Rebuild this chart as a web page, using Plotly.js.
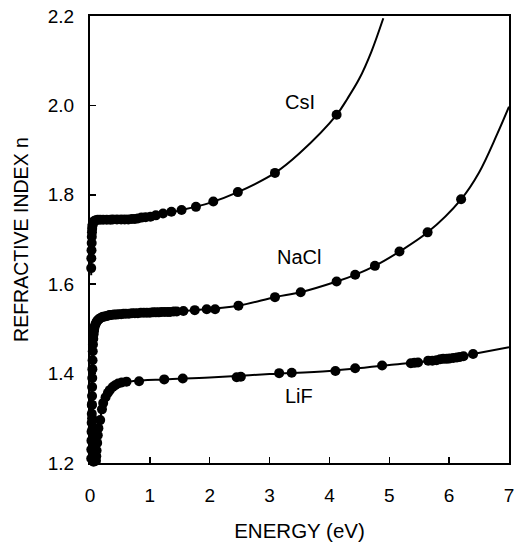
<!DOCTYPE html>
<html>
<head>
<meta charset="utf-8">
<script src="https://cdn.plot.ly/plotly-3.0.1.min.js"></script>
<style>html,body{margin:0;padding:0;background:#fff;overflow:hidden;}#chart{width:514px;height:546px;}</style>
</head>
<body>
<div id="chart"></div>
<script>
// ---- measured data (CsI) ----
const csiX = [0.02,0.022,0.025,0.028,0.03,0.033,0.036,0.04,0.045,0.05,0.06,0.08,0.1,0.13,0.17,0.22,0.28,0.34,0.38,0.45,0.52,0.58,0.64,0.70,0.75,0.80,0.86,0.93,1.01,1.10,1.22,1.36,1.53,1.77,2.06,2.47,3.09,4.12];
const csiY = [1.636,1.658,1.676,1.692,1.706,1.716,1.724,1.730,1.734,1.737,1.740,1.742,1.743,1.744,1.744,1.744,1.744,1.744,1.745,1.745,1.745,1.745,1.745,1.746,1.746,1.747,1.749,1.750,1.751,1.754,1.758,1.762,1.766,1.773,1.785,1.806,1.849,1.979];
// ---- measured data (NaCl) ----
const naclX = [0.02,0.022,0.024,0.026,0.028,0.03,0.032,0.034,0.036,0.038,0.04,0.043,0.046,0.05,0.055,0.06,0.065,0.07,0.08,0.09,0.1,0.115,0.13,0.15,0.17,0.2,0.22,0.25,0.28,0.31,0.33,0.36,0.4,0.44,0.48,0.52,0.56,0.6,0.65,0.7,0.75,0.8,0.85,0.9,0.95,1.0,1.05,1.1,1.15,1.2,1.25,1.3,1.34,1.4,1.45,1.56,1.75,1.95,2.09,2.48,3.09,3.52,4.12,4.43,4.76,5.17,5.64,6.20];
const naclY = [1.21,1.23,1.25,1.27,1.29,1.31,1.33,1.35,1.37,1.39,1.41,1.43,1.45,1.465,1.478,1.488,1.495,1.500,1.506,1.510,1.513,1.517,1.519,1.522,1.524,1.526,1.527,1.528,1.529,1.530,1.531,1.531,1.532,1.532,1.533,1.533,1.534,1.534,1.534,1.535,1.535,1.535,1.536,1.536,1.536,1.536,1.537,1.537,1.537,1.538,1.538,1.538,1.538,1.539,1.539,1.540,1.542,1.544,1.544,1.552,1.571,1.582,1.606,1.621,1.641,1.673,1.716,1.790];
// ---- measured data (LiF) ----
const lifX = [0.03,0.035,0.04,0.045,0.05,0.055,0.06,0.1,0.105,0.11,0.12,0.13,0.14,0.17,0.2,0.22,0.26,0.3,0.33,0.38,0.42,0.47,0.53,0.61,0.82,1.24,1.55,2.45,2.52,3.16,3.37,4.10,4.43,4.88,5.36,5.42,5.48,5.65,5.72,5.79,5.85,5.90,5.96,6.01,6.07,6.13,6.18,6.24,6.40];
const lifY = [1.33,1.30,1.275,1.25,1.23,1.215,1.203,1.205,1.215,1.228,1.245,1.262,1.278,1.296,1.320,1.334,1.347,1.357,1.363,1.370,1.374,1.378,1.380,1.382,1.383,1.387,1.389,1.392,1.393,1.401,1.402,1.406,1.412,1.418,1.423,1.424,1.425,1.429,1.429,1.430,1.432,1.433,1.433,1.434,1.435,1.436,1.437,1.439,1.444];
// ---- fitted curves ----
const csiFitX = [0.02,0.03,0.05,0.1,0.3,0.7,1.0,1.5,2.0,2.47,3.09,3.5,4.12,4.3,4.5,4.7,4.9];
const csiFitY = [1.62,1.69,1.725,1.740,1.744,1.746,1.751,1.765,1.782,1.806,1.849,1.893,1.979,2.015,2.06,2.12,2.195];
const naclFitX = [0.02,0.05,0.07,0.1,0.17,0.33,0.7,1.2,1.75,2.48,3.09,3.52,4.12,4.43,4.76,5.17,5.64,6.2,6.5,6.8,7.0];
const naclFitY = [1.21,1.465,1.50,1.513,1.524,1.531,1.535,1.538,1.542,1.552,1.571,1.582,1.606,1.621,1.641,1.673,1.716,1.790,1.85,1.935,1.997];
const lifFitX = [0.1,0.13,0.17,0.22,0.33,0.47,0.7,1.24,2.0,3.0,4.0,5.0,6.0,6.4,7.0];
const lifFitY = [1.205,1.262,1.296,1.334,1.363,1.378,1.383,1.387,1.391,1.399,1.406,1.419,1.434,1.444,1.459];
// ---- labels ----
const labelText = ["CsI","NaCl","LiF"];
const labelX = [3.51,3.49,3.49];
const labelY = [2.008,1.66,1.35];
const xTicks = [0,1,2,3,4,5,6,7];
const yTicks = [1.2,1.4,1.6,1.8,2.0,2.2];
const xRange = [0,7];
const yRange = [1.2,2.2];

const FONT = "Arial, 'Liberation Sans', Helvetica, sans-serif";
function fit(x,y){return {x:x,y:y,mode:'lines',type:'scatter',line:{color:'#000',width:2,shape:'spline',smoothing:1},hoverinfo:'skip',cliponaxis:true};}
function pts(x,y){return {x:x,y:y,mode:'markers',type:'scatter',marker:{color:'#000',size:10},cliponaxis:false};}
const data = [fit(csiFitX,csiFitY),fit(naclFitX,naclFitY),fit(lifFitX,lifFitY),pts(csiX,csiY),pts(naclX,naclY),pts(lifX,lifY),
  {x:lifFitX,y:lifFitY,xaxis:'x2',yaxis:'y2',mode:'lines',line:{width:0,color:'rgba(0,0,0,0)'},hoverinfo:'skip',showlegend:false}];

const annotations = labelText.map((t,i)=>({x:labelX[i],y:labelY[i],text:t,showarrow:false,xref:'x',yref:'y',font:{family:FONT,size:20,color:'#000'}}));

const frameAxis = {showline:true,linecolor:'#000',linewidth:2,showgrid:false,zeroline:false,showticklabels:false,ticks:''};
const layout = {
  width:514,height:546,
  margin:{l:90,r:5,t:16,b:83},
  paper_bgcolor:'#fff',plot_bgcolor:'#fff',
  showlegend:false,
  font:{family:FONT,color:'#000'},
  xaxis:{range:xRange,tickvals:xTicks,ticktext:xTicks.map(String),ticks:'inside',ticklen:6,tickwidth:1.5,tickcolor:'#000',
    showline:true,linecolor:'#000',linewidth:2,mirror:true,showgrid:false,zeroline:false,ticklabeloverflow:'allow',
    tickfont:{family:FONT,size:19,color:'#000'},ticklabelstandoff:14,
    title:{text:'ENERGY (eV)',font:{family:FONT,size:20.5,color:'#000'},standoff:19}},
  yaxis:{range:yRange,tickvals:yTicks,ticktext:yTicks.map(v=>v.toFixed(1)),ticks:'inside',ticklen:6,tickwidth:1.5,tickcolor:'#000',
    showline:true,linecolor:'#000',linewidth:2,mirror:true,showgrid:false,zeroline:false,ticklabeloverflow:'allow',
    tickfont:{family:FONT,size:19,color:'#000'},ticklabelstandoff:10,
    title:{text:'REFRACTIVE INDEX n',font:{family:FONT,size:19.5,color:'#000'},standoff:14}},
  xaxis2:Object.assign({overlaying:'x',side:'top',anchor:'y2',range:xRange},frameAxis),
  yaxis2:Object.assign({overlaying:'y',side:'right',anchor:'x2',range:yRange},frameAxis),
  annotations:annotations
};
Plotly.newPlot('chart',data,layout,{staticPlot:true,displayModeBar:false});
</script>
</body>
</html>
